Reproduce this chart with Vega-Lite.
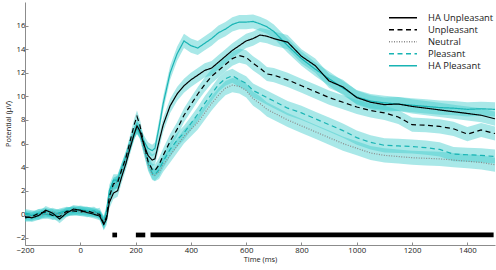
{
"$schema":"https://vega.github.io/schema/vega-lite/v6.json",
"width":470,"height":243,
"autosize":{"type":"none"},
"padding":{"left":25,"top":2,"right":1,"bottom":25},
"datasets":{
"erp":[
{"c":"HA Pleasant","t":-200,"v":0.0,"e":0.35},{"c":"HA Pleasant","t":-175,"v":-0.1,"e":0.35},{"c":"HA Pleasant","t":-150,"v":0.1,"e":0.35},{"c":"HA Pleasant","t":-125,"v":0.0,"e":0.35},{"c":"HA Pleasant","t":-100,"v":-0.1,"e":0.35},{"c":"HA Pleasant","t":-75,"v":0.15,"e":0.35},{"c":"HA Pleasant","t":-50,"v":0.3,"e":0.35},{"c":"HA Pleasant","t":-25,"v":0.2,"e":0.35},{"c":"HA Pleasant","t":0,"v":0.4,"e":0.35},{"c":"HA Pleasant","t":25,"v":0.3,"e":0.35},{"c":"HA Pleasant","t":50,"v":0.1,"e":0.35},{"c":"HA Pleasant","t":70,"v":0.2,"e":0.35},{"c":"HA Pleasant","t":85,"v":-0.7,"e":0.5},{"c":"HA Pleasant","t":95,"v":0.3,"e":0.5},{"c":"HA Pleasant","t":105,"v":2.0,"e":0.5},{"c":"HA Pleasant","t":120,"v":2.9,"e":0.5},{"c":"HA Pleasant","t":135,"v":2.9,"e":0.5},{"c":"HA Pleasant","t":150,"v":3.9,"e":0.5},{"c":"HA Pleasant","t":165,"v":4.9,"e":0.5},{"c":"HA Pleasant","t":180,"v":5.9,"e":0.5},{"c":"HA Pleasant","t":195,"v":6.9,"e":0.5},{"c":"HA Pleasant","t":205,"v":7.3,"e":0.5},{"c":"HA Pleasant","t":215,"v":7.0,"e":0.5},{"c":"HA Pleasant","t":230,"v":6.2,"e":0.5},{"c":"HA Pleasant","t":245,"v":5.6,"e":0.5},{"c":"HA Pleasant","t":260,"v":5.4,"e":0.5},{"c":"HA Pleasant","t":270,"v":5.6,"e":0.5},{"c":"HA Pleasant","t":285,"v":7.4,"e":0.6},{"c":"HA Pleasant","t":300,"v":9.4,"e":0.6},{"c":"HA Pleasant","t":325,"v":12.0,"e":0.6},{"c":"HA Pleasant","t":350,"v":13.6,"e":0.6},{"c":"HA Pleasant","t":375,"v":14.7,"e":0.6},{"c":"HA Pleasant","t":400,"v":14.3,"e":0.6},{"c":"HA Pleasant","t":425,"v":14.1,"e":0.6},{"c":"HA Pleasant","t":450,"v":14.5,"e":0.6},{"c":"HA Pleasant","t":475,"v":14.9,"e":0.6},{"c":"HA Pleasant","t":500,"v":15.4,"e":0.6},{"c":"HA Pleasant","t":525,"v":15.7,"e":0.6},{"c":"HA Pleasant","t":550,"v":16.1,"e":0.6},{"c":"HA Pleasant","t":575,"v":16.3,"e":0.6},{"c":"HA Pleasant","t":600,"v":16.3,"e":0.6},{"c":"HA Pleasant","t":625,"v":16.35,"e":0.6},{"c":"HA Pleasant","t":650,"v":16.15,"e":0.6},{"c":"HA Pleasant","t":675,"v":15.9,"e":0.6},{"c":"HA Pleasant","t":700,"v":15.5,"e":0.6},{"c":"HA Pleasant","t":750,"v":14.3,"e":0.6},{"c":"HA Pleasant","t":800,"v":13.2,"e":0.6},{"c":"HA Pleasant","t":850,"v":12.3,"e":0.6},{"c":"HA Pleasant","t":900,"v":11.5,"e":0.6},{"c":"HA Pleasant","t":950,"v":10.7,"e":0.6},{"c":"HA Pleasant","t":1000,"v":9.95,"e":0.6},{"c":"HA Pleasant","t":1050,"v":9.6,"e":0.6},{"c":"HA Pleasant","t":1100,"v":9.45,"e":0.6},{"c":"HA Pleasant","t":1150,"v":9.35,"e":0.6},{"c":"HA Pleasant","t":1200,"v":9.25,"e":0.6},{"c":"HA Pleasant","t":1250,"v":9.15,"e":0.6},{"c":"HA Pleasant","t":1300,"v":9.05,"e":0.6},{"c":"HA Pleasant","t":1350,"v":9.0,"e":0.6},{"c":"HA Pleasant","t":1400,"v":8.9,"e":0.6},{"c":"HA Pleasant","t":1450,"v":8.95,"e":0.6},{"c":"HA Pleasant","t":1500,"v":8.9,"e":0.6},
{"c":"Pleasant","t":-200,"v":0.1,"e":0.35},{"c":"Pleasant","t":-175,"v":0.0,"e":0.35},{"c":"Pleasant","t":-150,"v":-0.1,"e":0.35},{"c":"Pleasant","t":-125,"v":0.15,"e":0.35},{"c":"Pleasant","t":-100,"v":0.1,"e":0.35},{"c":"Pleasant","t":-75,"v":0.05,"e":0.35},{"c":"Pleasant","t":-50,"v":0.2,"e":0.35},{"c":"Pleasant","t":-25,"v":0.35,"e":0.35},{"c":"Pleasant","t":0,"v":0.3,"e":0.35},{"c":"Pleasant","t":25,"v":0.25,"e":0.35},{"c":"Pleasant","t":50,"v":0.3,"e":0.35},{"c":"Pleasant","t":70,"v":0.0,"e":0.35},{"c":"Pleasant","t":85,"v":-0.6,"e":0.5},{"c":"Pleasant","t":95,"v":0.1,"e":0.5},{"c":"Pleasant","t":105,"v":1.6,"e":0.5},{"c":"Pleasant","t":120,"v":2.6,"e":0.5},{"c":"Pleasant","t":135,"v":2.8,"e":0.5},{"c":"Pleasant","t":150,"v":3.8,"e":0.5},{"c":"Pleasant","t":165,"v":4.7,"e":0.5},{"c":"Pleasant","t":180,"v":5.8,"e":0.5},{"c":"Pleasant","t":195,"v":6.9,"e":0.5},{"c":"Pleasant","t":205,"v":7.3,"e":0.5},{"c":"Pleasant","t":215,"v":6.9,"e":0.5},{"c":"Pleasant","t":230,"v":5.6,"e":0.5},{"c":"Pleasant","t":245,"v":4.3,"e":0.5},{"c":"Pleasant","t":260,"v":3.5,"e":0.5},{"c":"Pleasant","t":270,"v":3.35,"e":0.5},{"c":"Pleasant","t":285,"v":3.8,"e":0.6},{"c":"Pleasant","t":300,"v":4.5,"e":0.6},{"c":"Pleasant","t":325,"v":5.5,"e":0.6},{"c":"Pleasant","t":350,"v":6.3,"e":0.6},{"c":"Pleasant","t":375,"v":6.9,"e":0.6},{"c":"Pleasant","t":400,"v":7.7,"e":0.6},{"c":"Pleasant","t":425,"v":8.5,"e":0.6},{"c":"Pleasant","t":450,"v":9.4,"e":0.6},{"c":"Pleasant","t":475,"v":10.2,"e":0.6},{"c":"Pleasant","t":500,"v":11.0,"e":0.6},{"c":"Pleasant","t":525,"v":11.5,"e":0.6},{"c":"Pleasant","t":550,"v":11.75,"e":0.6},{"c":"Pleasant","t":575,"v":11.4,"e":0.6},{"c":"Pleasant","t":600,"v":11.1,"e":0.6},{"c":"Pleasant","t":625,"v":10.5,"e":0.6},{"c":"Pleasant","t":650,"v":10.2,"e":0.6},{"c":"Pleasant","t":675,"v":9.9,"e":0.6},{"c":"Pleasant","t":700,"v":9.6,"e":0.6},{"c":"Pleasant","t":750,"v":9.0,"e":0.6},{"c":"Pleasant","t":800,"v":8.6,"e":0.6},{"c":"Pleasant","t":850,"v":8.1,"e":0.6},{"c":"Pleasant","t":900,"v":7.6,"e":0.6},{"c":"Pleasant","t":950,"v":7.1,"e":0.6},{"c":"Pleasant","t":1000,"v":6.5,"e":0.6},{"c":"Pleasant","t":1050,"v":6.1,"e":0.6},{"c":"Pleasant","t":1100,"v":5.85,"e":0.6},{"c":"Pleasant","t":1150,"v":5.8,"e":0.6},{"c":"Pleasant","t":1200,"v":5.75,"e":0.6},{"c":"Pleasant","t":1250,"v":5.65,"e":0.6},{"c":"Pleasant","t":1300,"v":5.5,"e":0.6},{"c":"Pleasant","t":1350,"v":5.1,"e":0.6},{"c":"Pleasant","t":1400,"v":5.05,"e":0.6},{"c":"Pleasant","t":1450,"v":5.0,"e":0.6},{"c":"Pleasant","t":1500,"v":4.9,"e":0.6},
{"c":"Neutral","t":-200,"v":-0.1,"e":0.35},{"c":"Neutral","t":-175,"v":-0.2,"e":0.35},{"c":"Neutral","t":-150,"v":-0.1,"e":0.35},{"c":"Neutral","t":-125,"v":0.0,"e":0.35},{"c":"Neutral","t":-100,"v":0.2,"e":0.35},{"c":"Neutral","t":-75,"v":0.0,"e":0.35},{"c":"Neutral","t":-50,"v":0.15,"e":0.35},{"c":"Neutral","t":-25,"v":0.3,"e":0.35},{"c":"Neutral","t":0,"v":0.2,"e":0.35},{"c":"Neutral","t":25,"v":0.1,"e":0.35},{"c":"Neutral","t":50,"v":0.2,"e":0.35},{"c":"Neutral","t":70,"v":-0.1,"e":0.35},{"c":"Neutral","t":85,"v":-0.7,"e":0.5},{"c":"Neutral","t":95,"v":-0.1,"e":0.5},{"c":"Neutral","t":105,"v":1.4,"e":0.5},{"c":"Neutral","t":120,"v":2.4,"e":0.5},{"c":"Neutral","t":135,"v":2.8,"e":0.5},{"c":"Neutral","t":150,"v":3.7,"e":0.5},{"c":"Neutral","t":165,"v":4.7,"e":0.5},{"c":"Neutral","t":180,"v":5.9,"e":0.5},{"c":"Neutral","t":195,"v":7.0,"e":0.5},{"c":"Neutral","t":205,"v":7.4,"e":0.5},{"c":"Neutral","t":215,"v":7.0,"e":0.5},{"c":"Neutral","t":230,"v":5.6,"e":0.5},{"c":"Neutral","t":245,"v":4.2,"e":0.5},{"c":"Neutral","t":260,"v":3.4,"e":0.5},{"c":"Neutral","t":270,"v":3.3,"e":0.5},{"c":"Neutral","t":285,"v":3.6,"e":0.6},{"c":"Neutral","t":300,"v":4.2,"e":0.6},{"c":"Neutral","t":325,"v":5.0,"e":0.6},{"c":"Neutral","t":350,"v":5.8,"e":0.6},{"c":"Neutral","t":375,"v":6.6,"e":0.6},{"c":"Neutral","t":400,"v":7.2,"e":0.6},{"c":"Neutral","t":425,"v":7.8,"e":0.6},{"c":"Neutral","t":450,"v":8.6,"e":0.6},{"c":"Neutral","t":475,"v":9.4,"e":0.6},{"c":"Neutral","t":500,"v":10.1,"e":0.6},{"c":"Neutral","t":525,"v":10.7,"e":0.6},{"c":"Neutral","t":550,"v":10.95,"e":0.6},{"c":"Neutral","t":575,"v":10.85,"e":0.6},{"c":"Neutral","t":600,"v":10.5,"e":0.6},{"c":"Neutral","t":625,"v":9.8,"e":0.6},{"c":"Neutral","t":650,"v":9.4,"e":0.6},{"c":"Neutral","t":675,"v":8.9,"e":0.6},{"c":"Neutral","t":700,"v":8.6,"e":0.6},{"c":"Neutral","t":750,"v":8.0,"e":0.6},{"c":"Neutral","t":800,"v":7.5,"e":0.6},{"c":"Neutral","t":850,"v":7.0,"e":0.6},{"c":"Neutral","t":900,"v":6.5,"e":0.6},{"c":"Neutral","t":950,"v":6.0,"e":0.6},{"c":"Neutral","t":1000,"v":5.6,"e":0.6},{"c":"Neutral","t":1050,"v":5.2,"e":0.6},{"c":"Neutral","t":1100,"v":5.0,"e":0.6},{"c":"Neutral","t":1150,"v":4.9,"e":0.6},{"c":"Neutral","t":1200,"v":4.8,"e":0.6},{"c":"Neutral","t":1250,"v":4.75,"e":0.6},{"c":"Neutral","t":1300,"v":4.7,"e":0.6},{"c":"Neutral","t":1350,"v":4.6,"e":0.6},{"c":"Neutral","t":1400,"v":4.5,"e":0.6},{"c":"Neutral","t":1450,"v":4.4,"e":0.6},{"c":"Neutral","t":1500,"v":4.2,"e":0.6},
{"c":"Unpleasant","t":-200,"v":-0.3,"e":0.35},{"c":"Unpleasant","t":-175,"v":-0.2,"e":0.35},{"c":"Unpleasant","t":-150,"v":0.1,"e":0.35},{"c":"Unpleasant","t":-125,"v":0.2,"e":0.35},{"c":"Unpleasant","t":-100,"v":-0.1,"e":0.35},{"c":"Unpleasant","t":-75,"v":-0.2,"e":0.35},{"c":"Unpleasant","t":-50,"v":0.25,"e":0.35},{"c":"Unpleasant","t":-25,"v":0.3,"e":0.35},{"c":"Unpleasant","t":0,"v":0.2,"e":0.35},{"c":"Unpleasant","t":25,"v":0.3,"e":0.35},{"c":"Unpleasant","t":50,"v":0.1,"e":0.35},{"c":"Unpleasant","t":70,"v":0.0,"e":0.35},{"c":"Unpleasant","t":85,"v":-0.8,"e":0.5},{"c":"Unpleasant","t":95,"v":-0.2,"e":0.5},{"c":"Unpleasant","t":105,"v":1.5,"e":0.5},{"c":"Unpleasant","t":120,"v":2.6,"e":0.5},{"c":"Unpleasant","t":135,"v":2.7,"e":0.5},{"c":"Unpleasant","t":150,"v":3.8,"e":0.5},{"c":"Unpleasant","t":165,"v":4.8,"e":0.5},{"c":"Unpleasant","t":180,"v":6.2,"e":0.5},{"c":"Unpleasant","t":195,"v":7.6,"e":0.5},{"c":"Unpleasant","t":205,"v":8.3,"e":0.5},{"c":"Unpleasant","t":215,"v":7.6,"e":0.5},{"c":"Unpleasant","t":230,"v":6.0,"e":0.5},{"c":"Unpleasant","t":245,"v":4.5,"e":0.5},{"c":"Unpleasant","t":260,"v":3.8,"e":0.5},{"c":"Unpleasant","t":270,"v":3.7,"e":0.5},{"c":"Unpleasant","t":285,"v":4.2,"e":0.6},{"c":"Unpleasant","t":300,"v":5.0,"e":0.6},{"c":"Unpleasant","t":325,"v":6.2,"e":0.6},{"c":"Unpleasant","t":350,"v":7.2,"e":0.6},{"c":"Unpleasant","t":375,"v":8.4,"e":0.6},{"c":"Unpleasant","t":400,"v":9.3,"e":0.6},{"c":"Unpleasant","t":425,"v":10.2,"e":0.6},{"c":"Unpleasant","t":450,"v":11.0,"e":0.6},{"c":"Unpleasant","t":475,"v":11.7,"e":0.6},{"c":"Unpleasant","t":500,"v":12.2,"e":0.6},{"c":"Unpleasant","t":525,"v":12.7,"e":0.6},{"c":"Unpleasant","t":550,"v":13.2,"e":0.6},{"c":"Unpleasant","t":575,"v":13.45,"e":0.6},{"c":"Unpleasant","t":600,"v":13.3,"e":0.6},{"c":"Unpleasant","t":625,"v":12.8,"e":0.6},{"c":"Unpleasant","t":650,"v":12.4,"e":0.6},{"c":"Unpleasant","t":675,"v":11.9,"e":0.6},{"c":"Unpleasant","t":700,"v":11.8,"e":0.6},{"c":"Unpleasant","t":750,"v":11.4,"e":0.6},{"c":"Unpleasant","t":800,"v":10.9,"e":0.6},{"c":"Unpleasant","t":850,"v":10.4,"e":0.6},{"c":"Unpleasant","t":900,"v":9.9,"e":0.6},{"c":"Unpleasant","t":950,"v":9.5,"e":0.6},{"c":"Unpleasant","t":1000,"v":9.1,"e":0.6},{"c":"Unpleasant","t":1050,"v":8.8,"e":0.6},{"c":"Unpleasant","t":1100,"v":8.6,"e":0.6},{"c":"Unpleasant","t":1150,"v":8.25,"e":0.6},{"c":"Unpleasant","t":1200,"v":7.6,"e":0.6},{"c":"Unpleasant","t":1250,"v":7.55,"e":0.6},{"c":"Unpleasant","t":1300,"v":7.45,"e":0.6},{"c":"Unpleasant","t":1350,"v":7.25,"e":0.6},{"c":"Unpleasant","t":1400,"v":6.8,"e":0.6},{"c":"Unpleasant","t":1450,"v":7.15,"e":0.6},{"c":"Unpleasant","t":1500,"v":6.85,"e":0.6},
{"c":"HA Unpleasant","t":-200,"v":-0.2,"e":0.35},{"c":"HA Unpleasant","t":-175,"v":-0.3,"e":0.35},{"c":"HA Unpleasant","t":-150,"v":-0.1,"e":0.35},{"c":"HA Unpleasant","t":-125,"v":0.35,"e":0.35},{"c":"HA Unpleasant","t":-100,"v":0.1,"e":0.35},{"c":"HA Unpleasant","t":-75,"v":-0.4,"e":0.35},{"c":"HA Unpleasant","t":-50,"v":0.1,"e":0.35},{"c":"HA Unpleasant","t":-25,"v":0.45,"e":0.35},{"c":"HA Unpleasant","t":0,"v":0.35,"e":0.35},{"c":"HA Unpleasant","t":25,"v":0.15,"e":0.35},{"c":"HA Unpleasant","t":50,"v":0.0,"e":0.35},{"c":"HA Unpleasant","t":70,"v":-0.15,"e":0.35},{"c":"HA Unpleasant","t":85,"v":-0.85,"e":0.5},{"c":"HA Unpleasant","t":95,"v":-0.4,"e":0.5},{"c":"HA Unpleasant","t":105,"v":1.0,"e":0.5},{"c":"HA Unpleasant","t":120,"v":1.8,"e":0.5},{"c":"HA Unpleasant","t":135,"v":2.0,"e":0.5},{"c":"HA Unpleasant","t":150,"v":3.2,"e":0.5},{"c":"HA Unpleasant","t":165,"v":4.3,"e":0.5},{"c":"HA Unpleasant","t":180,"v":5.6,"e":0.5},{"c":"HA Unpleasant","t":195,"v":6.8,"e":0.5},{"c":"HA Unpleasant","t":205,"v":7.5,"e":0.5},{"c":"HA Unpleasant","t":215,"v":7.1,"e":0.5},{"c":"HA Unpleasant","t":230,"v":5.9,"e":0.5},{"c":"HA Unpleasant","t":245,"v":5.0,"e":0.5},{"c":"HA Unpleasant","t":260,"v":4.6,"e":0.5},{"c":"HA Unpleasant","t":270,"v":4.7,"e":0.5},{"c":"HA Unpleasant","t":285,"v":6.2,"e":0.6},{"c":"HA Unpleasant","t":300,"v":7.6,"e":0.6},{"c":"HA Unpleasant","t":325,"v":9.2,"e":0.6},{"c":"HA Unpleasant","t":350,"v":10.2,"e":0.6},{"c":"HA Unpleasant","t":375,"v":10.9,"e":0.6},{"c":"HA Unpleasant","t":400,"v":11.4,"e":0.6},{"c":"HA Unpleasant","t":425,"v":11.8,"e":0.6},{"c":"HA Unpleasant","t":450,"v":12.2,"e":0.6},{"c":"HA Unpleasant","t":475,"v":12.4,"e":0.6},{"c":"HA Unpleasant","t":500,"v":12.9,"e":0.6},{"c":"HA Unpleasant","t":525,"v":13.4,"e":0.6},{"c":"HA Unpleasant","t":550,"v":13.9,"e":0.6},{"c":"HA Unpleasant","t":575,"v":14.3,"e":0.6},{"c":"HA Unpleasant","t":600,"v":14.7,"e":0.6},{"c":"HA Unpleasant","t":625,"v":14.9,"e":0.6},{"c":"HA Unpleasant","t":650,"v":15.2,"e":0.6},{"c":"HA Unpleasant","t":675,"v":15.1,"e":0.6},{"c":"HA Unpleasant","t":700,"v":14.9,"e":0.6},{"c":"HA Unpleasant","t":750,"v":14.6,"e":0.6},{"c":"HA Unpleasant","t":800,"v":13.4,"e":0.6},{"c":"HA Unpleasant","t":850,"v":12.6,"e":0.6},{"c":"HA Unpleasant","t":900,"v":11.3,"e":0.6},{"c":"HA Unpleasant","t":950,"v":10.8,"e":0.6},{"c":"HA Unpleasant","t":1000,"v":9.9,"e":0.6},{"c":"HA Unpleasant","t":1050,"v":9.5,"e":0.6},{"c":"HA Unpleasant","t":1100,"v":9.3,"e":0.6},{"c":"HA Unpleasant","t":1150,"v":9.35,"e":0.6},{"c":"HA Unpleasant","t":1200,"v":9.15,"e":0.6},{"c":"HA Unpleasant","t":1250,"v":9.0,"e":0.6},{"c":"HA Unpleasant","t":1300,"v":8.85,"e":0.6},{"c":"HA Unpleasant","t":1350,"v":8.7,"e":0.6},{"c":"HA Unpleasant","t":1400,"v":8.55,"e":0.6},{"c":"HA Unpleasant","t":1450,"v":8.4,"e":0.6},{"c":"HA Unpleasant","t":1500,"v":8.1,"e":0.6}
],
"sig":[{"s":116,"e":133},{"s":201,"e":235},{"s":254,"e":1495}]
},
"layer":[
{"data":{"name":"erp"},
 "mark":{"type":"errorband","band":{"color":"#40cccc","opacity":0.45}},
 "encoding":{
  "x":{"field":"t","type":"quantitative","title":"Time (ms)","axis":{"tickCount":12,"values":[-200,0,200,400,600,800,1000,1200,1400]}},
  "y":{"field":"v","type":"quantitative","title":"Potential (μV)","axis":{"tickCount":12,"values":[-2,0,2,4,6,8,10,12,14,16]}},
  "yError":{"field":"e"},
  "detail":{"field":"c"}
 }},
{"data":{"name":"erp"},
 "mark":{"type":"line","strokeWidth":1.2},
 "encoding":{
  "x":{"field":"t","type":"quantitative","title":"Time (ms)","scale":{"domain":[-200,1500],"nice":false},
       "axis":{"tickCount":12,"values":[-200,0,200,400,600,800,1000,1200,1400],"format":"d","labelFlush":false,"labelOverlap":false}},
  "y":{"field":"v","type":"quantitative","title":"Potential (μV)","scale":{"domain":[-2.6,18],"nice":false,"zero":false},
       "axis":{"tickCount":12,"values":[-2,0,2,4,6,8,10,12,14,16],"labelOverlap":false,"labelFlush":false}},
  "color":{"field":"c","type":"nominal",
    "scale":{"domain":["HA Unpleasant","Unpleasant","Neutral","Pleasant","HA Pleasant"],
             "range":["#000000","#000000","#8a8a8a","#19b4b4","#19b4b4"]},
    "legend":{"title":null,"orient":"none","legendX":363,"legendY":10,"symbolType":"stroke","symbolSize":784,"symbolStrokeWidth":1.5,"clipHeight":11.5,"rowPadding":0,"labelOffset":10,"labelFontSize":9.4,"labelColor":"#1a1a1a"}},
  "strokeDash":{"field":"c","type":"nominal",
    "scale":{"domain":["HA Unpleasant","Unpleasant","Neutral","Pleasant","HA Pleasant"],
             "range":[[1,0],[5,3.5],[1,1.5],[5,3.5],[1,0]]},
    "legend":{"title":null,"orient":"none","legendX":363,"legendY":10,"symbolType":"stroke","symbolSize":784,"symbolStrokeWidth":1.5,"clipHeight":11.5,"rowPadding":0,"labelOffset":10,"labelFontSize":9.4,"labelColor":"#1a1a1a"}}
 }},
{"data":{"name":"sig"},
 "mark":{"type":"rect","color":"#000000"},
 "encoding":{
  "x":{"field":"s","type":"quantitative"},
  "x2":{"field":"e"},
  "y":{"datum":-1.95},
  "y2":{"datum":-1.55}
 }}
],
"config":{
 "view":{"stroke":null},
 "font":"Open Sans",
 "axis":{"grid":false,"domainColor":"#8c8c8c","tickColor":"#8c8c8c","tickSize":-3,"labelColor":"#1a1a1a","titleColor":"#1a1a1a","labelFontSize":7.8,"titleFontSize":7.4,"titleFontWeight":"normal","labelPadding":4,"labelOverlap":false},
 "axisY":{"titlePadding":4,"labelPadding":3,"labelOverlap":false},
 "axisX":{"titlePadding":2,"labelPadding":4}
}
}
